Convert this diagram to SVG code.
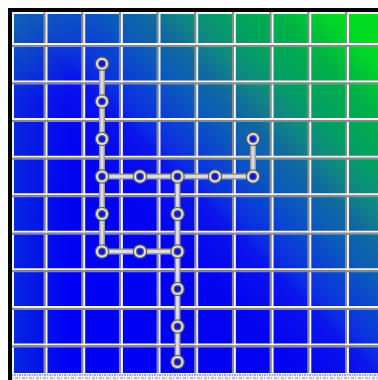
<svg xmlns="http://www.w3.org/2000/svg" width="378" height="380" viewBox="0 0 378 380">
<defs>
<linearGradient id="bg" gradientUnits="userSpaceOnUse" x1="-110" y1="110" x2="160" y2="-160">
<stop offset="0" stop-color="#0000f4"/>
<stop offset="0.278" stop-color="#0404f2"/>
<stop offset="0.407" stop-color="#0a14ec"/>
<stop offset="0.444" stop-color="#0a2ce2"/>
<stop offset="0.519" stop-color="#0a46d0"/>
<stop offset="0.583" stop-color="#0c5cb8"/>
<stop offset="0.648" stop-color="#1068a0"/>
<stop offset="0.715" stop-color="#108882"/>
<stop offset="0.791" stop-color="#02a062"/>
<stop offset="0.889" stop-color="#00b048"/>
<stop offset="1" stop-color="#00dc20"/>
</linearGradient>
<linearGradient id="lf" gradientUnits="userSpaceOnUse" x1="12" y1="0" x2="70" y2="0">
<stop offset="0" stop-color="#1060c0" stop-opacity="0.4"/>
<stop offset="1" stop-color="#1060c0" stop-opacity="0"/>
</linearGradient>
<radialGradient id="tl" gradientUnits="userSpaceOnUse" cx="12" cy="12" r="90">
<stop offset="0" stop-color="#1070a8" stop-opacity="0.8"/>
<stop offset="1" stop-color="#1070a8" stop-opacity="0"/>
</radialGradient>
<style>
.gd{stroke:#8a8a8a;stroke-width:2}
.gl{stroke:#f2f2f2;stroke-width:2}
.c1{stroke:#9a9a9a;stroke-width:6;fill:none;stroke-linecap:round}
.c2{stroke:#dcdcdc;stroke-width:3;fill:none;stroke-linecap:round}
.n1{fill:#0a12ee;stroke:#666;stroke-width:4.5}
.n2{fill:none;stroke:#e4e4e4;stroke-width:2}
</style>
</defs>
<rect width="378" height="380" fill="#ffffff"/>
<rect x="8" y="8" width="370" height="365" fill="url(#bg)"/>
<rect x="8" y="8" width="370" height="365" fill="url(#lf)"/>
<rect x="8" y="8" width="370" height="365" fill="url(#tl)"/>
<g id="grid">
<line class="gl" x1="13" y1="12" x2="13" y2="373"/>
<line class="gl" x1="12" y1="13" x2="378" y2="13"/>
<g class="gd">
<line x1="44.5" y1="12" x2="44.5" y2="373"/><line x1="82.2" y1="12" x2="82.2" y2="373"/><line x1="119.9" y1="12" x2="119.9" y2="373"/><line x1="157.5" y1="12" x2="157.5" y2="373"/><line x1="195.2" y1="12" x2="195.2" y2="373"/><line x1="232.9" y1="12" x2="232.9" y2="373"/><line x1="270.6" y1="12" x2="270.6" y2="373"/><line x1="308.3" y1="12" x2="308.3" y2="373"/><line x1="346" y1="12" x2="346" y2="373"/>
</g>
<g class="gl">
<line x1="46.5" y1="12" x2="46.5" y2="373"/><line x1="84.2" y1="12" x2="84.2" y2="373"/><line x1="121.9" y1="12" x2="121.9" y2="373"/><line x1="159.5" y1="12" x2="159.5" y2="373"/><line x1="197.2" y1="12" x2="197.2" y2="373"/><line x1="234.9" y1="12" x2="234.9" y2="373"/><line x1="272.6" y1="12" x2="272.6" y2="373"/><line x1="310.3" y1="12" x2="310.3" y2="373"/><line x1="348" y1="12" x2="348" y2="373"/>
</g>
<g class="gl">
<line x1="12" y1="44" x2="378" y2="44"/><line x1="12" y1="81.6" x2="378" y2="81.6"/><line x1="12" y1="119.1" x2="378" y2="119.1"/><line x1="12" y1="156.7" x2="378" y2="156.7"/><line x1="12" y1="194.2" x2="378" y2="194.2"/><line x1="12" y1="231.8" x2="378" y2="231.8"/><line x1="12" y1="269.3" x2="378" y2="269.3"/><line x1="12" y1="306.9" x2="378" y2="306.9"/><line x1="12" y1="344.4" x2="378" y2="344.4"/>
</g>
<g class="gd">
<line x1="12" y1="46" x2="378" y2="46"/><line x1="12" y1="83.6" x2="378" y2="83.6"/><line x1="12" y1="121.1" x2="378" y2="121.1"/><line x1="12" y1="158.7" x2="378" y2="158.7"/><line x1="12" y1="196.2" x2="378" y2="196.2"/><line x1="12" y1="233.8" x2="378" y2="233.8"/><line x1="12" y1="271.3" x2="378" y2="271.3"/><line x1="12" y1="308.9" x2="378" y2="308.9"/><line x1="12" y1="346.4" x2="378" y2="346.4"/>
</g>
</g>
<rect x="8" y="8" width="370" height="4" fill="#000"/>
<rect x="8" y="8" width="4" height="372" fill="#000"/>
<rect x="12" y="373" width="366" height="7" fill="#eceef8"/>
<line x1="12" y1="375" x2="378" y2="375" stroke="#8890d8" stroke-width="1.5" stroke-dasharray="1 1 2 1"/>
<line x1="12" y1="378" x2="378" y2="378" stroke="#909090" stroke-width="1" stroke-dasharray="1 2 3 1"/>
<g id="connectors">
<path class="c1" d="M102 63.8V251.5M102 176.5H253M253 138.9V176.5M177.5 176.5V362M102 251.5H177.5"/>
<path class="c2" d="M102 63.8V251.5M102 176.5H253M253 138.9V176.5M177.5 176.5V362M102 251.5H177.5"/>
</g>
<g id="n1"><circle class="n1" cx="102" cy="63.8" r="5"/><circle class="n2" cx="102" cy="63.8" r="5"/></g>
<g id="n2"><circle class="n1" cx="102" cy="101.4" r="5"/><circle class="n2" cx="102" cy="101.4" r="5"/></g>
<g id="n3"><circle class="n1" cx="102" cy="138.9" r="5"/><circle class="n2" cx="102" cy="138.9" r="5"/></g>
<g id="n4"><circle class="n1" cx="102" cy="176.5" r="5"/><circle class="n2" cx="102" cy="176.5" r="5"/></g>
<g id="n5"><circle class="n1" cx="102" cy="214" r="5"/><circle class="n2" cx="102" cy="214" r="5"/></g>
<g id="n6"><circle class="n1" cx="102" cy="251.5" r="5"/><circle class="n2" cx="102" cy="251.5" r="5"/></g>
<g id="n7"><circle class="n1" cx="140" cy="176.5" r="5"/><circle class="n2" cx="140" cy="176.5" r="5"/></g>
<g id="n8"><circle class="n1" cx="177.5" cy="176.5" r="5"/><circle class="n2" cx="177.5" cy="176.5" r="5"/></g>
<g id="n9"><circle class="n1" cx="215" cy="176.5" r="5"/><circle class="n2" cx="215" cy="176.5" r="5"/></g>
<g id="n10"><circle class="n1" cx="253" cy="176.5" r="5"/><circle class="n2" cx="253" cy="176.5" r="5"/></g>
<g id="n11"><circle class="n1" cx="253" cy="138.9" r="5"/><circle class="n2" cx="253" cy="138.9" r="5"/></g>
<g id="n12"><circle class="n1" cx="177.5" cy="214" r="5"/><circle class="n2" cx="177.5" cy="214" r="5"/></g>
<g id="n13"><circle class="n1" cx="177.5" cy="251.5" r="5"/><circle class="n2" cx="177.5" cy="251.5" r="5"/></g>
<g id="n14"><circle class="n1" cx="140" cy="251.5" r="5"/><circle class="n2" cx="140" cy="251.5" r="5"/></g>
<g id="n15"><circle class="n1" cx="177.5" cy="289.1" r="5"/><circle class="n2" cx="177.5" cy="289.1" r="5"/></g>
<g id="n16"><circle class="n1" cx="177.5" cy="326.6" r="5"/><circle class="n2" cx="177.5" cy="326.6" r="5"/></g>
<g id="n17"><circle class="n1" cx="177.5" cy="362" r="5"/><circle class="n2" cx="177.5" cy="362" r="5"/></g>
</svg>
